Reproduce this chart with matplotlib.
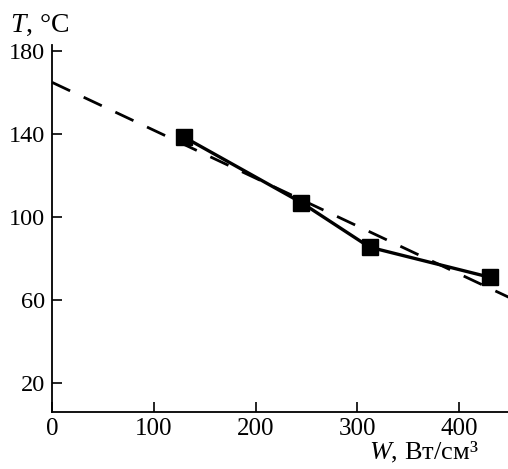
import matplotlib.pyplot as plt
import numpy as np
from matplotlib import rc

# Serif text, like a printed journal figure
rc('font', family='Liberation Serif')
rc('mathtext', fontset='custom', it='Liberation Serif:italic', rm='Liberation Serif')

# Measured points: power density W (Вт/см3) vs temperature T (°C)
w_points = [130, 245, 312, 430]
t_points = [138.5, 107, 85.5, 71]

# Linear fit drawn as dashed line
fit_w = [0, 450]
fit_intercept = 165.0
fit_slope = -0.231

xticks = [0, 100, 200, 300, 400]
yticks = [20, 60, 100, 140, 180]

fig = plt.figure(figsize=(5.08, 4.69), dpi=100)
ax = fig.add_axes([52 / 508, 57 / 469, 456 / 508, 367 / 469])

fit_t = [fit_intercept + fit_slope * w for w in fit_w]
ax.plot(fit_w, fit_t, color='black', lw=2.0, dashes=(7.2, 5.4), clip_on=False)
ax.plot(w_points, t_points, color='black', lw=2.4, marker='s', ms=11,
        markerfacecolor='black', markeredgecolor='black')

ax.set_xlim(0, 448)
ax.set_ylim(6, 183)
ax.set_xticks(xticks)
ax.set_yticks(yticks)
ax.tick_params(direction='in', length=7, width=1.2, pad=5)
ax.tick_params(axis='y', labelsize=17.5)
ax.tick_params(axis='x', labelsize=18, pad=4)

for side in ['top', 'right']:
    ax.spines[side].set_visible(False)
for side in ['left', 'bottom']:
    ax.spines[side].set_linewidth(1.3)

fig.text(10 / 508, 1 - 25 / 469, r'$T$, °C', fontsize=20, va='center', ha='left')
fig.text(369 / 508, 4 / 469, r'$W$, Вт/см³', fontsize=19, va='bottom', ha='left')

plt.savefig('out.png', dpi=100)
plt.close()
